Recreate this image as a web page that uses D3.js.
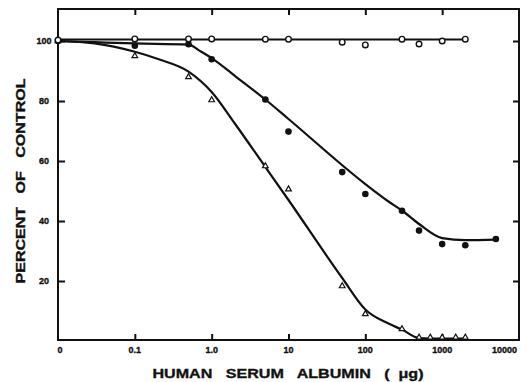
<!DOCTYPE html>
<html>
<head>
<meta charset="utf-8">
<script src="https://cdn.jsdelivr.net/npm/d3@7"></script>
<style>
  body { margin: 0; background: #fff; }
  svg { display: block; }
  text { font-family: "Liberation Sans", "DejaVu Sans", sans-serif; font-weight: bold; fill: #111; stroke: #111; stroke-width: 0.35px; white-space: pre; }
</style>
</head>
<body>
<div class="chart"></div>
<script>
// measured points (dose in ug, percent of control); dose 0 is drawn at the left edge
const openDoses = [0, 0.1, 0.5, 1, 5, 10, 50, 100, 300, 500, 1000, 2000]
const openValues = [100.3, 100.7, 100.7, 100.7, 100.6, 100.6, 99.6, 98.7, 100.6, 99, 100, 100.6]

const filledDoses = [0, 0.1, 0.5, 1, 5, 10, 50, 100, 300, 500, 1000, 2000, 5000]
const filledValues = [100, 98.4, 98.9, 93.9, 80.5, 69.8, 56.3, 49, 43.4, 36.8, 32.3, 31.9, 34]

const triDoses = [0, 0.1, 0.5, 1, 5, 10, 50, 100, 300, 500, 700, 1000, 1500, 2000]
const triValues = [100, 95, 88, 80.3, 58.3, 50.6, 18.3, 9, 4, 1.2, 1.2, 1.2, 1.2, 1.2]

// hand-drawn fitted curves
const openFitDoses = [0, 2000]
const openFitValues = [100.5, 100.5]

const filledFitDoses = [0, 0.03, 0.1, 0.5, 0.7, 1, 2, 5, 10, 100, 200, 300, 500, 1000, 2000, 5000]
const filledFitValues = [100, 99.6, 99.2, 98.8, 96.7, 94.3, 88.4, 80.5, 74, 52.3, 46.5, 43.5, 39, 34.3, 33.6, 33.8]

const triFitDoses = [0, 0.03, 0.1, 0.2, 0.5, 1, 2, 5, 10, 50, 100, 200, 300, 500, 1000, 2000]
const triFitValues = [100, 99.2, 96.4, 94, 89.8, 83, 72.5, 58, 47, 21, 10.5, 5.8, 3.8, 1, 0.8, 0.8]

const xTicks = [0.1, 1, 10, 100, 1000]
const xTickLabels = ["0", "0.1", "1.0", "10", "100", "1000", "10000"]
const xLabelDoses = [0, 0.1, 1, 10, 100, 1000, 10000]
const yTicks = [20, 40, 60, 80, 100]

const width = 527, height = 382
const margin = {left: 58, right: 8, top: 9, bottom: 41}

const svg = d3.select('.chart').append('svg')
    .attr('width', width)
    .attr('height', height)

const x = d3.scaleLog()
    .domain([0.01, 10000])
    .range([margin.left, width - margin.right])
const y = d3.scaleLinear()
    .domain([0, 110.67])
    .range([height - margin.bottom, margin.top])

const px = d => x(d === 0 ? 0.01 : d)

const pairs = (xs, ys) => xs.map((d, i) => ({dose: d, value: ys[i]}))

// frame
svg.append('rect')
    .attr('x', x(0.01))
    .attr('y', y(110.67))
    .attr('width', x(10000) - x(0.01))
    .attr('height', y(0) - 1 - y(110.67))
    .attr('fill', 'none')
    .attr('stroke', '#111')
    .attr('stroke-width', 2)

// inward ticks
const axisB = d3.axisBottom(x).tickValues(xTicks).tickSize(-6).tickFormat('')
const axisT = d3.axisTop(x).tickValues(xTicks).tickSize(-6).tickFormat('')
const axisL = d3.axisLeft(y).tickValues(yTicks).tickSize(-7).tickFormat('')
const axisR = d3.axisRight(y).tickValues(yTicks).tickSize(-6).tickFormat('')

const axisG = [
    svg.append('g').attr('transform', `translate(0,${y(0) - 1})`).call(axisB),
    svg.append('g').attr('transform', `translate(0,${y(110.67)})`).call(axisT),
    svg.append('g').attr('transform', `translate(${x(0.01)},0)`).call(axisL),
    svg.append('g').attr('transform', `translate(${x(10000)},0)`).call(axisR)
]
axisG.forEach(g => {
    g.select('.domain').remove()
    g.selectAll('line').attr('stroke', '#111').attr('stroke-width', 2)
})

// tick labels
svg.selectAll('.xlab')
    .data(xLabelDoses)
    .enter().append('text')
    .attr('class', 'xlab')
    .attr('x', (d, i) => i === xLabelDoses.length - 1 ? px(d) - 2 : px(d) + (i === 0 ? 2 : 0))
    .attr('y', 353)
    .attr('text-anchor', (d, i) => i === xLabelDoses.length - 1 ? 'end' : 'middle')
    .attr('font-size', '9px')
    .text((d, i) => xTickLabels[i])

svg.selectAll('.ylab')
    .data(yTicks)
    .enter().append('text')
    .attr('class', 'ylab')
    .attr('x', 44)
    .attr('y', d => y(d) + 3)
    .attr('text-anchor', 'middle')
    .attr('font-size', '9px')
    .text(d => d)

// axis titles
svg.append('text')
    .attr('x', 288)
    .attr('y', 378)
    .attr('text-anchor', 'middle')
    .attr('font-size', '13.5px')
    .attr('textLength', 271)
    .attr('lengthAdjust', 'spacingAndGlyphs')
    .text('HUMAN   SERUM   ALBUMIN   (  \u03bcg)')

svg.append('text')
    .attr('transform', 'translate(25,181) rotate(-90)')
    .attr('text-anchor', 'middle')
    .attr('font-size', '13.5px')
    .attr('textLength', 205)
    .attr('lengthAdjust', 'spacingAndGlyphs')
    .text('PERCENT   OF   CONTROL')

// fitted curves
const line = d3.line()
    .x(d => px(d.dose))
    .y(d => y(d.value))
    .curve(d3.curveMonotoneX)

const fits = [
    pairs(openFitDoses, openFitValues),
    pairs(filledFitDoses, filledFitValues),
    pairs(triFitDoses, triFitValues)
]
svg.selectAll('.fit')
    .data(fits)
    .enter().append('path')
    .attr('class', 'fit')
    .attr('d', line)
    .attr('fill', 'none')
    .attr('stroke', '#111')
    .attr('stroke-width', 2.2)

// markers
svg.selectAll('.tri')
    .data(pairs(triDoses, triValues))
    .enter().append('path')
    .attr('class', 'tri')
    .attr('transform', d => `translate(${px(d.dose)},${y(d.value)})`)
    .attr('d', d3.symbol(d3.symbolTriangle, 14))
    .attr('fill', '#fff')
    .attr('stroke', '#111')
    .attr('stroke-width', 1.2)

svg.selectAll('.filled')
    .data(pairs(filledDoses, filledValues))
    .enter().append('circle')
    .attr('class', 'filled')
    .attr('cx', d => px(d.dose))
    .attr('cy', d => y(d.value))
    .attr('r', 3.3)
    .attr('fill', '#111')

svg.selectAll('.open')
    .data(pairs(openDoses, openValues))
    .enter().append('circle')
    .attr('class', 'open')
    .attr('cx', d => px(d.dose))
    .attr('cy', d => y(d.value))
    .attr('r', 2.8)
    .attr('fill', '#fff')
    .attr('stroke', '#111')
    .attr('stroke-width', 1.4)
</script>
</body>
</html>
